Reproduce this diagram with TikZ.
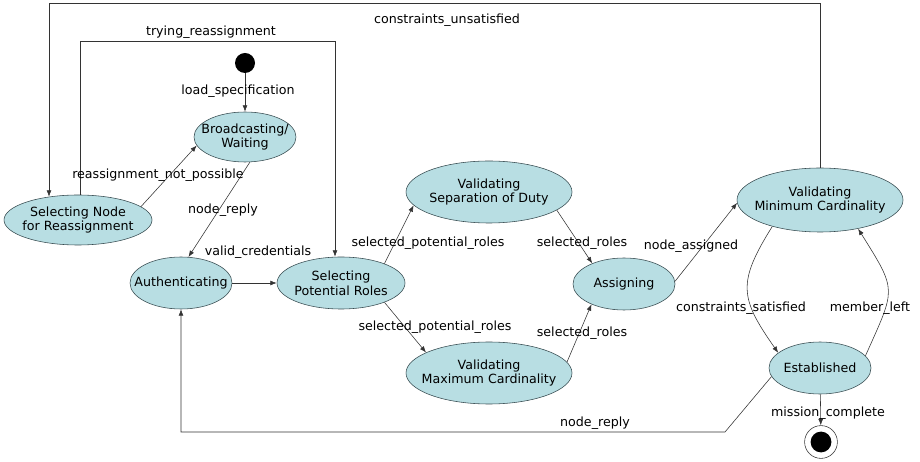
\documentclass[tikz,border=0pt]{standalone}
\usepackage{fontspec}
\setmainfont{DejaVu Sans}
\usetikzlibrary{shapes.geometric,arrows.meta}
\definecolor{statefill}{RGB}{184,222,227}
\definecolor{stateline}{RGB}{55,75,80}

\begin{document}
\begin{tikzpicture}[x=0.25mm,y=0.25mm,
	state/.style={ellipse,draw=stateline,fill=statefill,inner sep=-20pt,align=center,font=\fontsize{9}{10.5}\selectfont},
	lbl/.style={font=\fontsize{9}{10.5}\selectfont,inner sep=0pt},
	trans/.style={draw=black!80,-{Latex[length=1.6mm,width=1.2mm]}}]
	\useasboundingbox (0,0) rectangle (920,-462);
	% states
	\node[circle,fill=black,minimum size=5mm,inner sep=0pt] (start) at (245,-63) {};
	\node[state,minimum width=25.5mm,minimum height=12.5mm] (bcast) at (245,-137) {Broadcasting/\\Waiting};
	\node[state,minimum width=37mm,minimum height=12.5mm] (selnode) at (78,-220) {Selecting Node\\for Reassignment};
	\node[state,minimum width=25.5mm,minimum height=13mm] (auth) at (181,-283) {Authenticating};
	\node[state,minimum width=32mm,minimum height=13mm] (selroles) at (341,-283) {Selecting\\Potential Roles};
	\node[state,minimum width=41.5mm,minimum height=15.5mm] (vsod) at (489,-192) {Validating\\Separation of Duty};
	\node[state,minimum width=41.5mm,minimum height=15.5mm] (vmax) at (489,-373) {Validating\\Maximum Cardinality};
	\node[state,minimum width=25.5mm,minimum height=13mm] (assign) at (624,-284) {Assigning};
	\node[state,minimum width=41.5mm,minimum height=16mm] (vmin) at (820,-200) {Validating\\Minimum Cardinality};
	\node[state,minimum width=25.5mm,minimum height=13mm] (est) at (820,-368) {Established};
	\node[circle,draw=black!80,fill=white,minimum size=8.2mm,inner sep=0pt] (end) at (821,-442) {};
	\node[circle,fill=black,minimum size=5.2mm,inner sep=0pt] (endin) at (end) {};
	% corners
	\coordinate (tryc) at (335,-41);
	\coordinate (unsc) at (49,-3);
	\coordinate (nrc) at (725,-432);
	% transitions
	\draw[trans] (start) -- (bcast);
	\draw[trans] (bcast.-79) -- (auth.74);
	\draw[trans] (selnode.12) -- (bcast.190);
	\draw[trans] (selnode.85) |- (tryc) -- (tryc |- selroles.north);
	\draw[trans] (vmin.north) |- (unsc) -- ([yshift=-0.5mm]unsc |- selnode.north);
	\draw[trans] (auth) -- (selroles);
	\draw[trans] (selroles.24) -- (vsod.190);
	\draw[trans] (selroles.-24) -- (vmax.162);
	\draw[trans] (vsod.-15) -- (assign.147);
	\draw[trans] (vmax.8) -- (assign.212);
	\draw[trans] (assign.3) -- (vmin.182);
	\draw[trans] (vmin.209) to[out=238,in=125,looseness=1.35] (est.160);
	\draw[trans] (est.15) to[out=66,in=-58,looseness=1.5] (vmin.-37);
	\draw[trans] (est) -- (end);
	\draw[trans] (est.190) -- (nrc) -| (auth.south);
	% labels
	\node[lbl] (lload) at (238,-91) {load\_specification};
	\node[lbl] (ltry) at (211,-32) {trying\_reassignment};
	\node[lbl] (lunsat) at (447,-20) {constraints\_unsatisfied};
	\node[lbl] (lnotpos) at (158,-175) {reassignment\_not\_possible};
	\node[lbl] (lreply) at (223,-210) {node\_reply};
	\node[lbl] (lcred) at (258,-252) {valid\_credentials};
	\node[lbl] (lpotup) at (428,-243) {selected\_potential\_roles};
	\node[lbl] (lpotlo) at (435,-327) {selected\_potential\_roles};
	\node[lbl] (lrolup) at (582,-243) {selected\_roles};
	\node[lbl] (lrollo) at (582,-333) {selected\_roles};
	\node[lbl] (lassd) at (691,-246) {node\_assigned};
	\node[lbl] (lsat) at (741,-308) {constraints\_satisfied};
	\node[lbl] (lleft) at (870,-308) {member\_left};
	\node[lbl] (lmiss) at (828,-413) {mission\_complete};
	\node[lbl] (lreply2) at (595,-423) {node\_reply};
\end{tikzpicture}
\end{document}
